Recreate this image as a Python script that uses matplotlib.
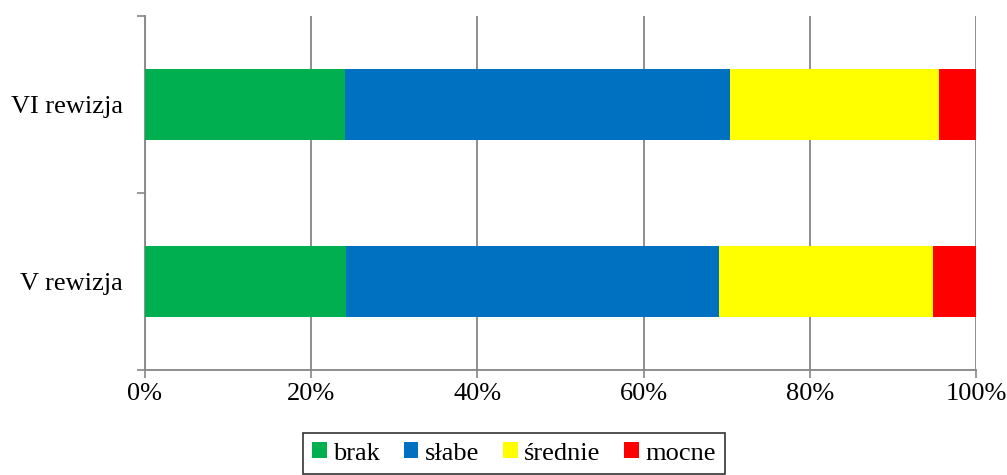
import matplotlib.pyplot as plt
import numpy as np

plt.rcParams['font.family'] = ['Liberation Serif', 'DejaVu Serif']

categories = ["V rewizja", "VI rewizja"]
series = ["brak", "słabe", "średnie", "mocne"]
values = {
    "brak":    [24.2, 24.1],
    "słabe":   [44.9, 46.3],
    "średnie": [25.7, 25.2],
    "mocne":   [5.2, 4.4],
}
colors = ["#00B050", "#0070C0", "#FFFF00", "#FF0000"]

fig = plt.figure(figsize=(10.07, 4.75), dpi=100)
ax = fig.add_axes([145/1007, 1-370/475, (976-145)/1007, (370-16)/475])

y = np.arange(len(categories))
left = np.zeros(len(categories))
for name, c in zip(series, colors):
    v = np.array(values[name])
    ax.barh(y, v, left=left, height=0.4, color=c, label=name, zorder=3)
    left += v

ax.set_xlim(0, 100)
ax.set_ylim(-0.5, 1.5)
ax.set_xticks(np.arange(0, 101, 20))
ax.set_xticklabels([f"{t}%" for t in range(0, 101, 20)], fontsize=19)
ax.set_yticks(y)
ax.set_yticklabels(categories, fontsize=19)
ax.set_yticks([-0.5, 0.5, 1.5], minor=True)
ax.tick_params(axis='y', which='major', length=0, pad=16)
ax.tick_params(axis='y', which='minor', length=6, color='#868686', width=1.2)
ax.tick_params(axis='x', length=6, color='#868686', width=1.2, pad=3)
ax.xaxis.grid(True, color='#868686', linewidth=1.3, zorder=0)
for s in ['top', 'right']:
    ax.spines[s].set_visible(False)
for s in ['left', 'bottom']:
    ax.spines[s].set_color('#868686')
    ax.spines[s].set_linewidth(1.3)

leg = fig.legend(loc='upper center', bbox_to_anchor=(514/1007, 1-433/475), ncol=4,
                 fontsize=19, frameon=True, fancybox=False, handlelength=0.55,
                 handleheight=0.55, handletextpad=0.25, columnspacing=0.9,
                 borderpad=0.35, borderaxespad=0)
leg.get_frame().set_edgecolor('black')
leg.get_frame().set_linewidth(1.2)

fig.savefig("out.png", dpi=100)
